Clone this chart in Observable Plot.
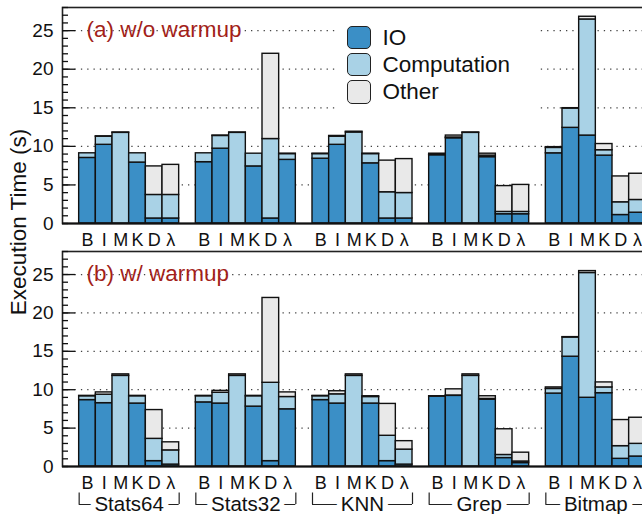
<!DOCTYPE html>
<html><head><meta charset="utf-8">
<script src="https://cdn.jsdelivr.net/npm/d3@7"></script>
<script src="https://cdn.jsdelivr.net/npm/@observablehq/plot@0.6"></script>
<style>
html,body{margin:0;padding:0;background:#fff;overflow:hidden;}
#wrap{position:relative;width:642px;height:514px;overflow:hidden;font-family:"Liberation Sans",Arial,sans-serif;color:#111;}
#wrap svg{display:block;max-width:none !important;height:auto;}
#ytitle{position:absolute;left:19px;top:222px;transform:translate(-50%,-50%) rotate(-90deg);font-size:22.5px;white-space:nowrap;}
#legend{position:absolute;left:336px;top:14px;width:204px;height:97px;background:#fff;}
.item{position:absolute;left:11px;height:23.5px;display:flex;align-items:center;}
.sw{width:23.5px;height:23.5px;box-sizing:border-box;border:1.5px solid #222;border-radius:5px;margin-right:12px;flex:none;}
.item span{font-size:22.5px;line-height:23.5px;}
</style></head>
<body>
<div id="wrap"></div>
<script>
const groups = ["Stats64", "Stats32", "KNN", "Grep", "Bitmap"];
const tools = ["B", "I", "M", "K", "D", "λ"];
const series = ["IO", "Computation", "Other"];
const colors = ["#3b8fc6", "#a9d2e6", "#e9e9e9"];
const panelTitles = ["(a) w/o warmup", "(b) w/ warmup"];
const yTicks = [0, 5, 10, 15, 20, 25];

// (a) w/o warmup — rows: groups, columns: tools
const ioA = [
  [8.5, 10.2, 0, 7.9, 0.65, 0.65],
  [7.95, 9.7, 0, 7.4, 0.65, 8.25],
  [8.4, 10.2, 0, 7.8, 0.65, 0.65],
  [8.85, 11.05, 0, 8.6, 1.2, 1.2],
  [9.1, 12.4, 11.4, 8.8, 1.1, 1.4]
];
const compA = [
  [0.6, 1.05, 11.75, 1.2, 3.05, 3.05],
  [1.15, 1.65, 11.75, 1.65, 10.3, 0.75],
  [0.6, 1.05, 11.8, 1.2, 3.4, 3.3],
  [0.05, 0.1, 11.75, 0.2, 0.3, 0.3],
  [0.7, 2.5, 15.05, 0.7, 1.65, 1.65]
];
const otherA = [
  [0, 0.05, 0.05, 0, 3.7, 3.9],
  [0, 0.05, 0.05, 0, 11.05, 0.05],
  [0.05, 0.1, 0.1, 0.05, 4.1, 4.4],
  [0.15, 0.25, 0.05, 0.25, 3.35, 3.5],
  [0.1, 0.05, 0.35, 0.8, 3.35, 3.4]
];
// (b) w/ warmup
const ioB = [
  [8.65, 8.25, 0, 8.2, 0.7, 0.25],
  [8.35, 8.2, 0, 7.8, 0.7, 7.45],
  [8.65, 8.2, 0, 8.2, 0.7, 0.25],
  [9.1, 9.2, 0, 8.7, 1.1, 0.45],
  [9.5, 14.3, 8.95, 9.55, 1.0, 1.3]
];
const compB = [
  [0.5, 1.1, 11.8, 0.95, 2.9, 1.85],
  [0.8, 1.4, 11.8, 1.35, 10.2, 1.6],
  [0.5, 1.2, 11.8, 0.85, 3.3, 1.95],
  [0, 0.05, 11.8, 0.1, 0.4, 0.2],
  [0.6, 2.5, 16.25, 0.75, 1.65, 1.65]
];
const otherB = [
  [0.05, 0.3, 0.2, 0.05, 3.75, 1.05],
  [0.05, 0.25, 0.2, 0.05, 11.05, 0.6],
  [0.05, 0.4, 0.2, 0.1, 4.15, 1.1],
  [0.05, 0.8, 0.2, 0.35, 3.35, 1.15],
  [0.2, 0.05, 0.25, 0.65, 3.4, 3.4]
];

const slotsPerGroup = tools.length + 1;
function buildRows(io, comp, other) {
  const out = [];
  groups.forEach((g, gi) => tools.forEach((t, ti) => {
    const slot = gi * slotsPerGroup + ti + 1;
    [io, comp, other].forEach((arr, si) =>
      out.push({group: g, tool: t, slot, series: series[si], value: arr[gi][ti]}));
  }));
  return out;
}
const groupInfo = groups.map((g, gi) => ({
  name: g,
  start: gi * slotsPerGroup + 1,
  end: gi * slotsPerGroup + 1 + tools.length,
  center: gi * slotsPerGroup + 1 + tools.length / 2
}));
const tickPos = [];
const tickLabel = new Map();
groups.forEach((g, gi) => tools.forEach((t, ti) => {
  const p = gi * slotsPerGroup + ti + 1.5;
  tickPos.push(p); tickLabel.set(p, t);
}));

const font = '"Liberation Sans", Arial, sans-serif';

function panel(data, title, opts) {
  const marks = [
    Plot.ruleY([5, 10, 15, 20, 25], {stroke: "#444", strokeWidth: 1.3, strokeDasharray: "1.3,5"}),
    Plot.rectY(data, {x1: "slot", x2: d => d.slot + 1, y: "value", fill: "series",
      stroke: "#111", strokeWidth: 1.4}),
    Plot.frame({stroke: "#222", strokeWidth: 1.6}),
    Plot.ruleY([0], {stroke: "#111", strokeWidth: 2.2}),
    Plot.axisY({ticks: yTicks, tickSize: 0, tickPadding: 9, fontSize: 19, label: null}),
    Plot.axisY({ticks: d3.range(0, 29), tickSize: -6, tickFormat: () => "", label: null, strokeWidth: 1.3}),
    Plot.axisY({ticks: [5, 10, 15, 20, 25], tickSize: -13, tickFormat: () => "", label: null, strokeWidth: 1.3}),
    Plot.axisX({ticks: tickPos, tickFormat: v => tickLabel.get(v), tickSize: 0, tickPadding: 10, fontSize: 18, label: null}),
    Plot.text([title], {frameAnchor: "top-left", dx: 24, dy: 22, text: d => d, fill: "#a31f1a",
      fontSize: 22.5, textAnchor: "start", lineAnchor: "middle"})
  ];
  if (opts.brackets) {
    marks.push(
      Plot.ruleY(groupInfo, {x1: "start", x2: "end", y: -4.95, stroke: "#222", strokeWidth: 1.2}),
      Plot.ruleX(groupInfo, {x: "start", y1: -3.45, y2: -4.95, stroke: "#222", strokeWidth: 1.2}),
      Plot.ruleX(groupInfo, {x: "end", y1: -3.45, y2: -4.95, stroke: "#222", strokeWidth: 1.2}),
      Plot.text(groupInfo, {x: "center", y: -4.95, text: "name", fontSize: 20.5, fill: "#111",
        stroke: "white", strokeWidth: 11, lineAnchor: "middle"})
    );
  }
  return Plot.plot({
    width: 680, height: opts.height,
    marginLeft: 62, marginRight: 18, marginTop: opts.marginTop, marginBottom: opts.marginBottom,
    x: {domain: [0, 36], axis: null, label: null},
    y: {domain: [0, 28], axis: null, label: null},
    color: {domain: series, range: colors},
    style: {fontFamily: font, fontSize: "18px", color: "#111", background: "transparent", overflow: "visible", maxWidth: "none"},
    marks
  });
}

const wrap = document.getElementById("wrap");
wrap.appendChild(panel(buildRows(ioA, compA, otherA), panelTitles[0], {height: 248, marginTop: 7, marginBottom: 25}));
wrap.appendChild(panel(buildRows(ioB, compB, otherB), panelTitles[1], {height: 266, marginTop: 3, marginBottom: 48, brackets: true}));

const yt = document.createElement("div");
yt.id = "ytitle"; yt.textContent = "Execution Time (s)";
wrap.appendChild(yt);

const leg = document.createElement("div");
leg.id = "legend";
series.forEach((s, i) => {
  const it = document.createElement("div");
  it.className = "item";
  it.style.top = (11.7 + i * 27.2) + "px";
  const sw = document.createElement("div");
  sw.className = "sw"; sw.style.background = colors[i];
  const sp = document.createElement("span"); sp.textContent = s;
  it.appendChild(sw); it.appendChild(sp);
  leg.appendChild(it);
});
wrap.appendChild(leg);
</script>
</body></html>
